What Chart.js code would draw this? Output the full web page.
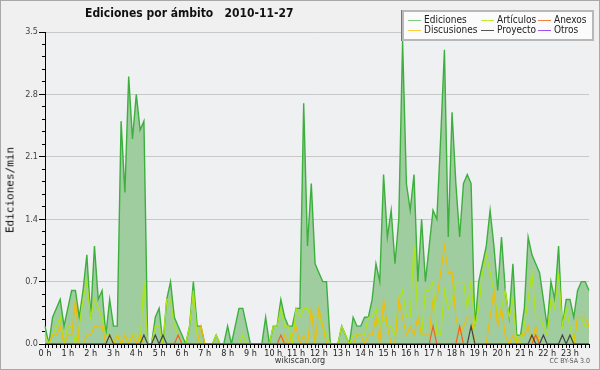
<!DOCTYPE html>
<html>
<head>
<meta charset="utf-8">
<script src="https://cdn.jsdelivr.net/npm/chart.js@4.4.0/dist/chart.umd.min.js"></script>
<style>
  body { margin: 0; background: #f0f0f0; }
  #wrap { position: relative; width: 600px; height: 370px; overflow: hidden; background: #f0f0f0; }
  #frame { position: absolute; left: 0; top: 0; width: 598px; height: 368px; border: 1px solid #a8a8a8; pointer-events: none; }
  #title { position: absolute; left: 85px; top: 6px; font: bold 12px 'DejaVu Sans Condensed', 'DejaVu Sans'; white-space: pre; color: #111; }
  #ytitle { position: absolute; left: 10px; top: 190px; transform: translate(-50%, -50%) rotate(-90deg); font: 11px 'DejaVu Sans Mono'; white-space: nowrap; color: #111; }
  #site { position: absolute; left: 300px; top: 355px; transform: translateX(-50%); font: 9px 'DejaVu Sans Condensed', 'DejaVu Sans'; color: #333; }
  #lic { position: absolute; right: 10px; top: 357px; font: 7px 'DejaVu Sans Condensed', 'DejaVu Sans'; color: #555; }
  #legend { position: absolute; left: 402px; top: 10px; width: 188px; height: 27px; background: #fbfbfb; border: 2px solid #b8b8b8; box-shadow: -1px 0 0 #777; font: 10px 'DejaVu Sans Condensed', 'DejaVu Sans'; color: #222; }
  #legend .it { position: absolute; white-space: nowrap; line-height: 10px; }
  #legend .ln { display: inline-block; width: 13px; height: 0; border-top: 1px solid; vertical-align: middle; margin-right: 3px; }
  canvas { position: absolute; left: 0; top: 0; }
</style>
</head>
<body>
<div id="wrap">
  <canvas id="chart" width="600" height="370"></canvas>
  <div id="title">Ediciones por ámbito   2010-11-27</div>
  <div id="ytitle">Ediciones/min</div>
  <div id="site">wikiscan.org</div>
  <div id="lic">CC BY-SA 3.0</div>
  <div id="legend"></div>
  <div id="frame"></div>
</div>
<script>
'use strict'

// time slots of 10 minutes, one day
var slots = [];
for (var h = 0; h < 24; h++) {
    for (var m = 0; m < 60; m += 10) {
        slots.push(h + ':' + (m < 10 ? '0' + m : m));
    }
}

var hourLabels = ['0 h', '1 h', '2 h', '3 h', '4 h', '5 h', '6 h', '7 h', '8 h', '9 h', '10 h', '11 h',
    '12 h', '13 h', '14 h', '15 h', '16 h', '17 h', '18 h', '19 h', '20 h', '21 h', '22 h', '23 h'];

var yTicks = [0.0, 0.7, 1.4, 2.1, 2.8, 3.5];

// edits per minute, one value per 10 min slot (12 values = 2 hours per row)
var ediciones = [
    0.2, 0.0, 0.3, 0.4, 0.5, 0.2, 0.4, 0.6, 0.6, 0.3, 0.6, 1.0,
    0.3, 1.1, 0.5, 0.6, 0.1, 0.5, 0.2, 0.2, 2.5, 1.7, 3.0, 2.3,
    2.8, 2.4, 2.5, 0.0, 0.0, 0.3, 0.4, 0.0, 0.5, 0.7, 0.3, 0.2,
    0.1, 0.0, 0.2, 0.7, 0.2, 0.2, 0.0, 0.0, 0.0, 0.1, 0.0, 0.0,
    0.2, 0.0, 0.2, 0.4, 0.4, 0.2, 0.0, 0.0, 0.0, 0.0, 0.3, 0.0,
    0.2, 0.2, 0.5, 0.3, 0.2, 0.2, 0.4, 0.4, 2.7, 1.1, 1.8, 0.9,
    0.8, 0.7, 0.7, 0.0, 0.0, 0.0, 0.2, 0.1, 0.0, 0.3, 0.2, 0.2,
    0.3, 0.3, 0.5, 0.9, 0.7, 1.9, 1.2, 1.5, 0.9, 1.4, 3.4, 1.8,
    1.5, 1.9, 0.7, 1.4, 0.7, 1.1, 1.5, 1.4, 2.3, 3.3, 1.2, 2.6,
    1.8, 1.2, 1.8, 1.9, 1.8, 0.2, 0.7, 0.9, 1.1, 1.5, 1.1, 0.6,
    1.2, 0.6, 0.3, 0.9, 0.1, 0.1, 0.4, 1.2, 1.0, 0.9, 0.8, 0.5,
    0.2, 0.7, 0.5, 1.1, 0.2, 0.5, 0.5, 0.3, 0.6, 0.7, 0.7, 0.6
];

var articulos = [
    0.1, 0, 0.1, 0.2, 0.3, 0, 0.2, 0.2, 0, 0.2, 0.5, 0.7,
    0.3, 0.5, 0.4, 0.3, 0.1, 0.1, 0, 0.1, 0, 0.1, 0, 0.1,
    0.1, 0, 0.7, 0, 0, 0.2, 0.2, 0, 0.5, 0.5, 0.2, 0.1,
    0, 0, 0.2, 0.6, 0.1, 0, 0, 0, 0, 0.1, 0, 0,
    0, 0, 0, 0, 0.1, 0, 0, 0, 0, 0, 0, 0,
    0.2, 0.2, 0.4, 0.2, 0.2, 0, 0.4, 0.3, 0.4, 0.4, 0.3, 0.3,
    0.3, 0.2, 0.1, 0, 0, 0, 0.2, 0.1, 0, 0.1, 0.1, 0.1,
    0.1, 0.3, 0.3, 0.4, 0.2, 0.3, 0.2, 0.2, 0.1, 0.5, 0.6, 0.3,
    0.3, 1.1, 0.3, 0.1, 0.6, 0.6, 0.7, 0.1, 0.1, 0.6, 0.4, 0.5,
    0.7, 0.7, 0.7, 0.4, 0.7, 0.2, 0.4, 0.8, 1.0, 0.8, 0.6, 0.3,
    0.4, 0.6, 0.3, 0.5, 0, 0, 0.2, 0.5, 0.8, 0.3, 0.3, 0.2,
    0.1, 0.5, 0.4, 0.8, 0.2, 0.4, 0.2, 0, 0.3, 0.3, 0.2, 0.2
];

var discusiones = [
    0, 0, 0.1, 0.1, 0.2, 0, 0.1, 0.1, 0.5, 0, 0, 0.1,
    0.1, 0.2, 0.2, 0.2, 0, 0.1, 0, 0.1, 0, 0.1, 0, 0.1,
    0, 0.1, 0, 0, 0, 0, 0, 0, 0, 0, 0, 0,
    0, 0, 0, 0, 0, 0.2, 0, 0, 0, 0, 0, 0,
    0, 0, 0, 0, 0, 0, 0, 0, 0, 0, 0, 0,
    0, 0, 0, 0.1, 0, 0.1, 0.2, 0, 0.1, 0, 0.4, 0,
    0.4, 0.2, 0, 0, 0, 0, 0, 0, 0, 0, 0.1, 0.1,
    0, 0.1, 0.1, 0.3, 0, 0.5, 0.2, 0, 0, 0.5, 0.3, 0.1,
    0.2, 0.1, 0.3, 0.1, 0.1, 0.1, 0.5, 0.5, 0.8, 1.1, 0.8, 0.8,
    0.3, 0.1, 0.2, 0.3, 0.3, 0, 0, 0, 0, 0.3, 0.6, 0.2,
    0.4, 0.1, 0, 0.1, 0, 0.1, 0.1, 0.2, 0, 0.2, 0, 0,
    0, 0, 0, 0, 0, 0, 0, 0, 0.3, 0.3, 0.3, 0.2
];

var anexos = [
    0, 0, 0, 0, 0, 0, 0, 0, 0, 0, 0, 0,
    0, 0, 0, 0, 0, 0, 0, 0, 0, 0, 0, 0,
    0, 0, 0, 0, 0, 0, 0, 0, 0, 0, 0, 0.1,
    0, 0, 0, 0, 0, 0, 0, 0, 0, 0, 0, 0,
    0, 0, 0, 0, 0, 0, 0, 0, 0, 0, 0, 0,
    0, 0, 0.1, 0, 0, 0, 0, 0, 0, 0, 0, 0,
    0, 0, 0, 0, 0, 0, 0, 0, 0, 0, 0, 0,
    0, 0, 0, 0, 0, 0, 0, 0, 0, 0, 0, 0,
    0, 0, 0, 0, 0, 0, 0.2, 0, 0, 0, 0, 0,
    0, 0.2, 0, 0, 0, 0, 0, 0, 0, 0, 0, 0,
    0, 0, 0, 0, 0, 0, 0, 0, 0, 0.1, 0, 0,
    0, 0, 0, 0, 0, 0, 0, 0, 0, 0, 0, 0
];

var proyecto = [
    0, 0, 0, 0, 0, 0, 0, 0, 0, 0, 0, 0,
    0, 0, 0, 0, 0, 0.1, 0, 0, 0, 0, 0, 0,
    0, 0, 0.1, 0, 0, 0.1, 0, 0.1, 0, 0, 0, 0,
    0, 0, 0, 0, 0, 0, 0, 0, 0, 0, 0, 0,
    0, 0, 0, 0, 0, 0, 0, 0, 0, 0, 0, 0,
    0, 0, 0, 0, 0, 0, 0, 0, 0, 0, 0, 0,
    0, 0, 0, 0, 0, 0, 0, 0, 0, 0, 0, 0,
    0, 0, 0, 0, 0, 0, 0, 0, 0, 0, 0, 0,
    0, 0, 0, 0, 0, 0, 0, 0, 0, 0, 0, 0,
    0, 0, 0, 0, 0.2, 0, 0, 0, 0, 0, 0, 0,
    0, 0, 0, 0, 0, 0, 0, 0, 0.1, 0, 0, 0.1,
    0, 0, 0, 0, 0.1, 0, 0.1, 0, 0, 0, 0, 0
];

var otros = [
    0, 0, 0, 0, 0, 0, 0, 0, 0, 0, 0, 0,
    0, 0, 0, 0, 0, 0, 0, 0, 0, 0, 0, 0,
    0, 0, 0, 0, 0, 0, 0, 0, 0, 0, 0, 0,
    0, 0, 0, 0, 0, 0, 0, 0, 0, 0, 0, 0,
    0, 0, 0, 0, 0, 0, 0, 0, 0, 0, 0, 0,
    0, 0, 0, 0, 0, 0, 0, 0, 0, 0, 0, 0,
    0, 0, 0, 0, 0, 0, 0, 0, 0, 0, 0, 0,
    0, 0, 0, 0, 0, 0, 0, 0, 0, 0, 0, 0,
    0, 0, 0, 0, 0, 0, 0, 0, 0, 0, 0, 0,
    0, 0, 0, 0, 0, 0, 0, 0, 0, 0, 0, 0,
    0, 0, 0, 0, 0, 0, 0, 0, 0, 0, 0, 0,
    0, 0, 0, 0, 0, 0, 0, 0, 0, 0, 0, 0
];

(function () {

    var FONT = "'DejaVu Sans Condensed', 'DejaVu Sans'";

    // minor ticks: 5 per major step
    var yMinor = [];
    for (var k = 0; k < yTicks.length - 1; k++) {
        for (var s = 0; s < 5; s++) {
            yMinor.push(yTicks[k] + (yTicks[k + 1] - yTicks[k]) * s / 5);
        }
    }
    yMinor.push(yTicks[yTicks.length - 1]);

    function isMajor(v) {
        return yTicks.some(function (t) { return Math.abs(t - v) < 1e-6; });
    }

    // legend rows: [Ediciones, Artículos, Anexos] / [Discusiones, Proyecto, Otros]
    var series = [
        { label: 'Ediciones', data: ediciones, color: '#3daf3d', legend: '#7ccf7c', fill: '#a0cda0', order: 6 },
        { label: 'Artículos', data: articulos, color: '#aee414', legend: '#c0ec30', order: 4 },
        { label: 'Anexos', data: anexos, color: '#ee6422', legend: '#f28040', order: 2 },
        { label: 'Discusiones', data: discusiones, color: '#f0bc0a', legend: '#f8d040', order: 3 },
        { label: 'Proyecto', data: proyecto, color: '#444444', legend: '#555555', order: 1 },
        { label: 'Otros', data: otros, color: '#9a40ee', legend: '#a050f0', order: 5 }
    ];

    var legendCols = [408, 481, 538];
    var legendRows = [15, 25];
    var legendBox = document.getElementById('legend');
    series.forEach(function (sr, i) {
        var it = document.createElement('div');
        it.className = 'it';
        it.style.left = (legendCols[i % 3] - 404) + 'px';
        it.style.top = (legendRows[Math.floor(i / 3)] - 12) + 'px';
        it.innerHTML = '<span class="ln" style="border-color:' + sr.legend + '"></span>' + sr.label;
        legendBox.appendChild(it);
    });

    var datasets = series.map(function (sr) {
        return {
            label: sr.label,
            data: sr.data,
            borderColor: sr.color,
            backgroundColor: sr.fill || sr.color,
            borderWidth: sr.fill ? 1.4 : 1.2,
            fill: sr.fill ? 'origin' : false,
            pointRadius: 0,
            tension: 0,
            order: sr.order
        };
    });

    var plotBg = {
        id: 'plotBg',
        beforeDraw: function (chart) {
            var a = chart.chartArea;
            var c = chart.ctx;
            c.save();
            c.fillStyle = '#eef0f2';
            c.fillRect(a.left, a.top, a.right - a.left, a.bottom - a.top);
            c.restore();
        }
    };

    new Chart(document.getElementById('chart'), {
        type: 'line',
        data: { labels: slots, datasets: datasets },
        plugins: [plotBg],
        options: {
            responsive: false,
            devicePixelRatio: 1,
            animation: false,
            layout: { padding: { left: 0, right: 11, top: 32, bottom: 0 } },
            plugins: {
                legend: { display: false },
                tooltip: { enabled: false }
            },
            scales: {
                x: {
                    type: 'category',
                    offset: false,
                    z: 1,
                    border: { color: '#000', width: 1 },
                    grid: { drawOnChartArea: false, offset: false, tickLength: 4, tickColor: '#000' },
                    ticks: {
                        autoSkip: false,
                        maxRotation: 0,
                        padding: 0,
                        color: '#222',
                        font: { family: FONT, size: 9 },
                        callback: function (v, i) { return i % 6 === 0 ? hourLabels[i / 6] : ''; }
                    },
                    afterFit: function (sc) { sc.height = 26; }
                },
                y: {
                    min: 0,
                    max: 3.5,
                    border: { color: '#000', width: 1 },
                    grid: {
                        tickLength: 6,
                        tickColor: '#000',
                        color: function (ctx) { return ctx.tick && isMajor(ctx.tick.value) && ctx.tick.value > 0 ? '#c8c8c8' : 'rgba(0,0,0,0)'; },
                        tickBorderDash: function (ctx) { return ctx.tick && isMajor(ctx.tick.value) ? [] : [0, 3, 3, 0]; }
                    },
                    ticks: {
                        autoSkip: false,
                        padding: 1,
                        color: '#444',
                        font: { family: FONT, size: 9 },
                        callback: function (v) { return isMajor(v) ? v.toFixed(1) : ''; }
                    },
                    afterBuildTicks: function (sc) {
                        sc.ticks = yMinor.map(function (v) { return { value: v }; });
                    },
                    afterFit: function (sc) { sc.width = 45; }
                }
            }
        }
    });
})();
</script>
</body>
</html>
